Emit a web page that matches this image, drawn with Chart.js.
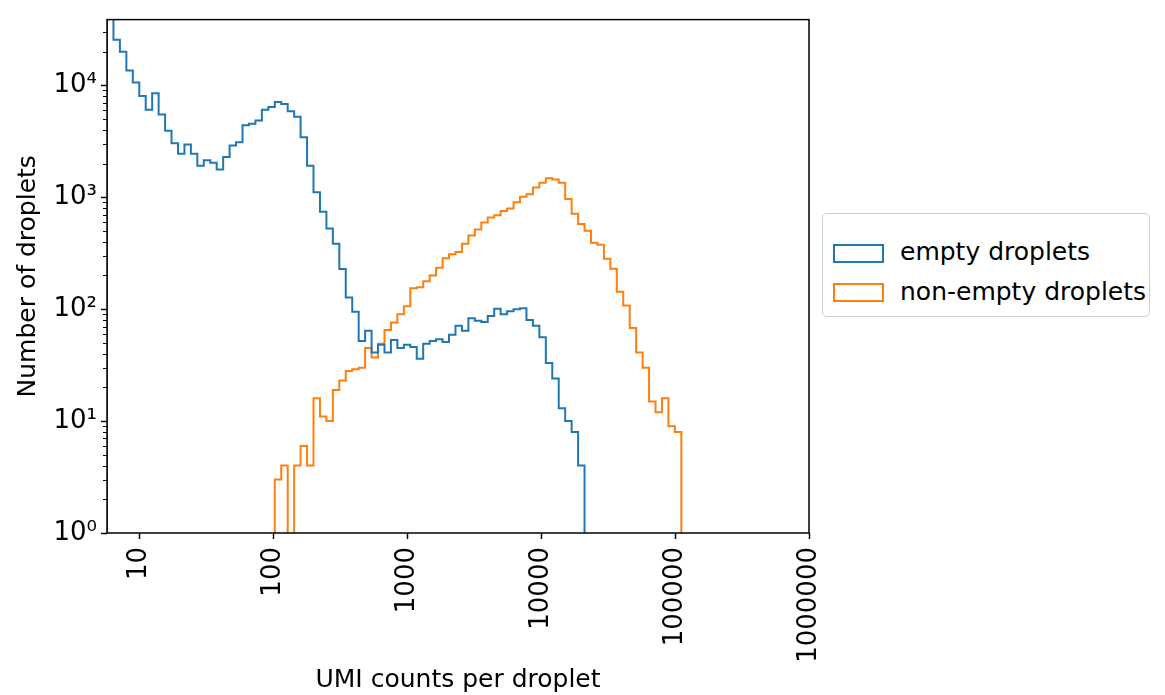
<!DOCTYPE html>
<html>
<head>
<meta charset="utf-8">
<script src="https://cdn.jsdelivr.net/npm/chart.js@4/dist/chart.umd.min.js"></script>
<style>
  body { margin: 0; background: #fff; }
  #wrap { position: relative; width: 1165px; height: 695px; }
  #legend {
    position: absolute; left: 822px; top: 213px; width: 326px; height: 102px;
    border: 1.5px solid #d0d0d0; border-radius: 5px; background: #fff;
    font-family: "DejaVu Sans", sans-serif; font-size: 25px; color: #000;
  }
  #legend .swatch { position: absolute; left: 10px; width: 47px; height: 15px; border: 2px solid; }
  #legend .label { position: absolute; left: 77px; line-height: 30px; white-space: nowrap; }
</style>
</head>
<body>
<div id="wrap">
  <canvas id="histChart" width="1165" height="695"></canvas>
  <div id="legend"></div>
</div>
<script>
// log-spaced histogram bins (edges in log10 units)
const binLogStart = 0.761;
const binLogWidth = 0.04816;
const binCount = 109;

const seriesNames = ["empty droplets", "non-empty droplets"];
const seriesColors = ["#1f77b4", "#ff7f0e"];

// counts per bin (bin 0 first)
const emptyCounts = [
  45000, 25500, 20000, 13600, 10600, 8050, 6070, 8510, 5490, 3930,
  3040, 2450, 2960, 2450, 1910, 2140, 2040, 1770, 2290, 2900,
  3100, 4400, 4550, 4860, 6070, 6410, 7100, 6810, 5880, 5240,
  3430, 1910, 1110, 743, 527, 385, 229, 127, 95, 52,
  64, 41, 48, 41, 53, 45, 48, 46, 36, 49,
  52, 54, 51, 59, 71, 64, 83, 79, 77, 87,
  101, 90, 96, 100, 102, 80, 71, 56, 33, 24,
  13, 10, 8, 4
];
const nonEmptyCounts = [
  0, 0, 0, 0, 0, 0, 0, 0, 0, 0,
  0, 0, 0, 0, 0, 0, 0, 0, 0, 0,
  0, 0, 0, 0, 0, 0, 3, 4, 0, 4,
  6, 4, 16, 11, 10, 19, 23, 28, 29, 30,
  45, 37, 49, 65, 76, 90, 106, 154, 157, 178,
  200, 235, 285, 310, 325, 385, 455, 514, 596, 658,
  690, 753, 792, 905, 1013, 1065, 1220, 1345, 1480, 1440,
  1345, 967, 712, 576, 503, 393, 377, 282, 230, 143,
  108, 68, 41, 30, 15, 12, 16, 9, 8
];

const xTicks = [10, 100, 1000, 10000, 100000, 1000000];
const yTicks = [1, 10, 100, 1000, 10000];
const superDigits = { 0: "\u2070", 1: "\u00b9", 2: "\u00b2", 3: "\u00b3", 4: "\u2074" };

const yMin = 1;
const yMax = 38700;
const zeroFloor = 0.1; // empty bins sit below the log axis and get clipped

const binEdges = [];
for (let i = 0; i <= binCount; i++) binEdges.push(Math.pow(10, binLogStart + i * binLogWidth));

function stepPoints(counts) {
  const pts = [{ x: binEdges[0], y: zeroFloor }];
  for (let i = 0; i < binCount; i++) {
    const c = counts[i] || 0;
    pts.push({ x: binEdges[i], y: c > 0 ? c : zeroFloor });
  }
  pts.push({ x: binEdges[binCount], y: zeroFloor });
  return pts;
}

const labelFont = { family: "DejaVu Sans", size: 25 };
const tickFont = { family: "DejaVu Sans", size: 26 };

const frameAndMinorTicks = {
  id: "frameAndMinorTicks",
  afterDatasetsDraw(chart) {
    const { ctx, chartArea: a } = chart;
    const y = chart.scales.y;
    ctx.save();
    ctx.strokeStyle = "#000";
    ctx.lineWidth = 1;
    for (let e = 0; e <= 4; e++) {
      for (let m = 2; m <= 9; m++) {
        const v = m * Math.pow(10, e);
        if (v > y.max) continue;
        const py = Math.round(y.getPixelForValue(v)) + 0.5;
        ctx.beginPath();
        ctx.moveTo(a.left - 4, py);
        ctx.lineTo(a.left, py);
        ctx.stroke();
      }
    }
    ctx.lineWidth = 1.5;
    ctx.strokeRect(a.left, a.top, a.right - a.left, a.bottom - a.top);
    ctx.restore();
  }
};

new Chart(document.getElementById("histChart").getContext("2d"), {
  type: "line",
  data: {
    datasets: [
      { label: seriesNames[0], data: stepPoints(emptyCounts), borderColor: seriesColors[0] },
      { label: seriesNames[1], data: stepPoints(nonEmptyCounts), borderColor: seriesColors[1] }
    ].map(ds => Object.assign(ds, {
      stepped: "before", borderWidth: 2, pointRadius: 0, fill: false, tension: 0
    }))
  },
  options: {
    responsive: false,
    animation: false,
    layout: { padding: { top: 10, right: 356, left: 0, bottom: 0 } },
    plugins: { legend: { display: false }, tooltip: { enabled: false } },
    scales: {
      x: {
        type: "logarithmic",
        min: binEdges[0],
        max: 1000000,
        afterBuildTicks: s => { s.ticks = xTicks.map(v => ({ value: v })); },
        afterFit: s => { s.height = 162; },
        ticks: {
          autoSkip: false, minRotation: 90, maxRotation: 90, padding: 8,
          color: "#000", font: tickFont,
          callback: v => String(v)
        },
        grid: { drawOnChartArea: false, drawTicks: true, tickLength: 6, tickColor: "#000", tickWidth: 1.5 },
        border: { display: false },
        title: { display: true, text: "UMI counts per droplet", color: "#000", font: labelFont, padding: { top: 0, bottom: 0 } }
      },
      y: {
        type: "logarithmic",
        min: yMin,
        max: yMax,
        afterBuildTicks: s => { s.ticks = yTicks.map(v => ({ value: v })); },
        afterFit: s => { s.width = 107; },
        ticks: {
          padding: 4, color: "#000", font: tickFont,
          callback: v => "10" + superDigits[Math.round(Math.log10(v))]
        },
        grid: { drawOnChartArea: false, drawTicks: true, tickLength: 6, tickColor: "#000", tickWidth: 1.5 },
        border: { display: false },
        title: { display: true, text: "Number of droplets", color: "#000", font: labelFont, padding: { top: 13, bottom: 0 } }
      }
    }
  },
  plugins: [frameAndMinorTicks]
});

// legend box, built from the series names
const legend = document.getElementById("legend");
seriesNames.forEach((name, i) => {
  const sw = document.createElement("div");
  sw.className = "swatch";
  sw.style.borderColor = seriesColors[i];
  sw.style.top = (30 + i * 39) + "px";
  legend.appendChild(sw);
  const lab = document.createElement("div");
  lab.className = "label";
  lab.style.top = (23 + i * 40) + "px";
  lab.textContent = name;
  legend.appendChild(lab);
});
</script>
</body>
</html>
